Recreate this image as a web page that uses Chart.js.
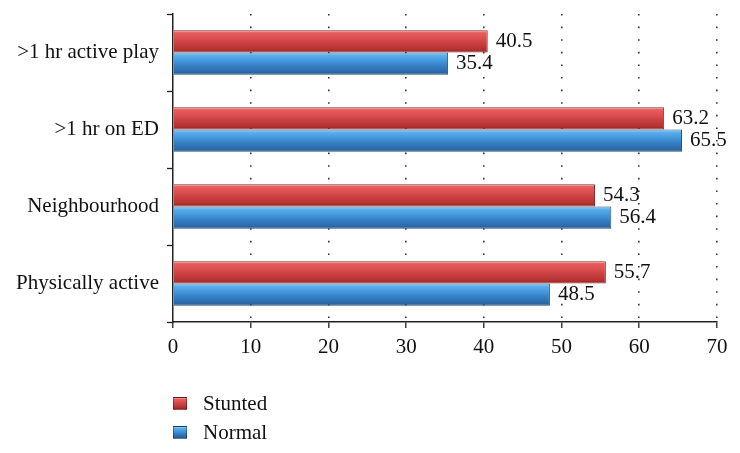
<!DOCTYPE html>
<html>
<head>
<meta charset="utf-8">
<script src="https://cdn.jsdelivr.net/npm/chart.js@4/dist/chart.umd.min.js"></script>
<style>
    html, body { margin: 0; padding: 0; background: #fff; }
    #wrap { position: relative; width: 740px; height: 453px; }
    #legend { position: absolute; left: 173px; top: 389px; font: 21px "Liberation Serif", serif; color: #111; }
    .item { height: 29px; display: flex; align-items: center; }
    .box { width: 14px; height: 13px; margin-right: 16px; border: 1px solid rgba(0,0,0,0.35); box-sizing: border-box; }
</style>
</head>
<body>
<div id="wrap">
    <canvas id="chart" width="740" height="453"></canvas>
    <div id="legend"></div>
</div>
<script>
// datos
const categories = [">1 hr active play", ">1 hr on ED", "Neighbourhood", "Physically active"];
const stunted = [40.5, 63.2, 54.3, 55.7];
const normal = [35.4, 65.5, 56.4, 48.5];
const xTicks = [0, 10, 20, 30, 40, 50, 60, 70];

const FONT = '"Liberation Serif", "Times New Roman", serif';
const CAT_PCT = 0.58;

const redStops = [[0, '#f4a3a3'], [0.12, '#e65c5c'], [0.3, '#e05353'], [0.55, '#cc4242'], [0.85, '#b63232'], [1, '#8f2424']];
const blueStops = [[0, '#a3d6f8'], [0.12, '#5db0ec'], [0.35, '#4699dd'], [0.6, '#3580c5'], [0.88, '#2c68a8'], [1, '#23527f']];

// gradiente vertical por barra (efecto cilindro)
function barFill(stops, fallback) {
    return function (context) {
        const chart = context.chart;
        const y = chart.scales.y;
        if (!chart.chartArea || !y || context.dataIndex === undefined) return fallback;
        const center = y.getPixelForValue(context.dataIndex);
        const h = (y.height / categories.length) * CAT_PCT / 2;
        const top = context.datasetIndex === 0 ? center - h : center;
        const g = chart.ctx.createLinearGradient(0, top, 0, top + h);
        stops.forEach(s => g.addColorStop(s[0], s[1]));
        return g;
    };
}

// etiquetas de valor
const valueLabels = {
    id: 'valueLabels',
    afterDatasetsDraw(chart) {
        const ctx = chart.ctx;
        ctx.save();
        ctx.font = '21px ' + FONT;
        ctx.fillStyle = '#111';
        ctx.textAlign = 'left';
        ctx.textBaseline = 'middle';
        chart.data.datasets.forEach((ds, i) => {
            chart.getDatasetMeta(i).data.forEach((el, j) => {
                ctx.fillText(ds.data[j].toFixed(1), el.x + 8, el.y);
            });
        });
        ctx.restore();
    }
};

const ctx = document.getElementById('chart').getContext('2d');
const chart = new Chart(ctx, {
    type: 'bar',
    data: {
        labels: categories,
        datasets: [
            { label: 'Stunted', data: stunted, backgroundColor: barFill(redStops, '#cc4242'), borderColor: '#8a2a2a', borderWidth: 1 },
            { label: 'Normal', data: normal, backgroundColor: barFill(blueStops, '#3580c5'), borderColor: '#24507e', borderWidth: 1 }
        ]
    },
    options: {
        indexAxis: 'y',
        responsive: false,
        animation: false,
        categoryPercentage: CAT_PCT,
        barPercentage: 1,
        layout: { padding: { top: 14, right: 23, left: 0, bottom: 86 } },
        plugins: { legend: { display: false }, tooltip: { enabled: false } },
        scales: {
            x: {
                min: 0,
                max: 70,
                afterBuildTicks: (scale) => { scale.ticks = xTicks.map(v => ({ value: v })); },
                afterFit: (scale) => { scale.height = 45; },
                ticks: { color: '#111', font: { family: FONT, size: 21 }, padding: 7, maxRotation: 0 },
                grid: {
                    color: (c) => c.tick && c.tick.value === 0 ? 'rgba(0,0,0,0)' : '#333',
                    lineWidth: 1.6,
                    tickColor: '#222',
                    tickWidth: 1.3,
                    tickLength: 6,
                    tickBorderDash: []
                },
                border: { display: true, color: '#222', width: 1.5, dash: [1.6, 11] }
            },
            y: {
                afterFit: (scale) => {
                    scale.width = 173;
                    scale.paddingTop = 0;
                    scale.paddingBottom = 0;
                },
                ticks: { color: '#111', font: { family: FONT, size: 21 }, padding: 8 },
                grid: { drawOnChartArea: false, color: '#222', tickColor: '#222', tickWidth: 1.3, tickLength: 6 },
                border: { display: true, color: '#222', width: 1.5 }
            }
        }
    },
    plugins: [valueLabels]
});

// leyenda vertical
const legend = document.getElementById('legend');
[['Stunted', redStops], ['Normal', blueStops]].forEach(([name, stops]) => {
    const item = document.createElement('div');
    item.className = 'item';
    const box = document.createElement('span');
    box.className = 'box';
    box.style.background = 'linear-gradient(' + stops.map(s => s[1] + ' ' + (s[0] * 100) + '%').join(', ') + ')';
    const txt = document.createElement('span');
    txt.textContent = name;
    item.appendChild(box);
    item.appendChild(txt);
    legend.appendChild(item);
});
</script>
</body>
</html>
